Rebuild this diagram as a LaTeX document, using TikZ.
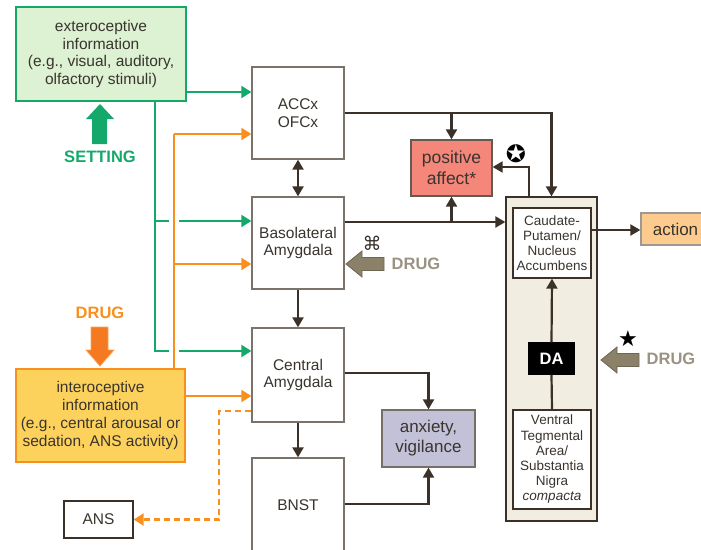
\documentclass[tikz,border=0pt]{standalone}
\usepackage{fontspec}
\setmainfont{Liberation Sans}
\newfontfamily\symfont{DejaVu Sans}
\usetikzlibrary{arrows.meta}
\definecolor{txt}{HTML}{3A342E}
\definecolor{ln}{HTML}{3B3128}
\definecolor{grn}{HTML}{14A96B}
\definecolor{org}{HTML}{F7901E}
\definecolor{orgdark}{HTML}{F47920}
\definecolor{orglight}{HTML}{F9A552}
\definecolor{extfill}{HTML}{DDF1D3}
\definecolor{intfill}{HTML}{FDD25C}
\definecolor{regbd}{HTML}{7A736C}
\definecolor{pafill}{HTML}{F4877A}
\definecolor{anxfill}{HTML}{C3C1D8}
\definecolor{actfill}{HTML}{FDCB8E}
\definecolor{bgfill}{HTML}{F1EEE1}
\definecolor{drugfill}{HTML}{8B8169}
\definecolor{drugbd}{HTML}{6E6552}
\definecolor{drugtxt}{HTML}{9B9282}
\begin{document}
\begin{tikzpicture}[x=1pt,y=-1pt,
  font=\fontsize{15.5}{17.7}\selectfont, text=txt,
  box/.style={draw=regbd, line width=1.3pt, fill=white, inner sep=0pt, align=center},
  region/.style={box, minimum width=92pt, minimum height=92pt},
  link/.style={draw=ln, line width=2.2pt, -{Triangle[length=10pt,width=11pt]}},
  glink/.style={draw=grn, line width=2.1pt},
  olink/.style={draw=org, line width=2.1pt},
  tipped/.style={-{Triangle[length=10pt,width=12pt]}},
  bold/.style={font=\fontsize{16.5}{18}\selectfont\bfseries}
]
\useasboundingbox (0,0) rectangle (701,549);

% beige container
\node[box, draw=ln, line width=1.3pt, fill=bgfill, minimum width=91pt, minimum height=324pt] (bg) at (551.5,359) {};

% input boxes
\node[box, draw=grn, line width=1.8pt, fill=extfill, minimum width=170pt, minimum height=94pt] (ext) at (101,54)
  {exteroceptive\\information\\(e.g., visual, auditory,\\olfactory stimuli)};
\node[box, draw=org, line width=1.8pt, fill=intfill, minimum width=169pt, minimum height=93pt] (int) at (100.5,415.5)
  {interoceptive\\information\\(e.g., central arousal or\\sedation, ANS activity)};
\node[box, draw=ln, minimum width=69pt, minimum height=37pt] (ans) at (98.5,519.5) {ANS};

% brain regions
\node[region] (acc) at (298,113) {ACCx\\OFCx};
\node[region] (bla) at (298,243) {Basolateral\\Amygdala};
\node[region, minimum height=94pt] (cea) at (298,375) {Central\\Amygdala};
\node[region, minimum height=94pt] (bnst) at (298,505) {BNST};

% outcome boxes
\node[box, draw=ln!80, fill=pafill, minimum width=81pt, minimum height=56pt,
  font=\fontsize{17.5}{21}\selectfont] (pa) at (451.5,168) {positive\\affect*};
\node[box, draw=ln!70, fill=anxfill, minimum width=93pt, minimum height=57pt,
  font=\fontsize{17}{20}\selectfont] (anx) at (428.5,438.5) {anxiety,\\vigilance};
\node[box, draw=ln!50, fill=actfill, minimum width=69pt, minimum height=32pt,
  font=\fontsize{17}{20}\selectfont] (act) at (675.5,229) {action};

% striatal boxes
\node[box, draw=ln, minimum width=78pt, minimum height=70pt,
  font=\fontsize{13.5}{15}\selectfont] (cp) at (552,243) {Caudate-\\Putamen/\\Nucleus\\Accumbens};
\node[box, draw=ln, minimum width=78pt, minimum height=99pt,
  font=\fontsize{13.5}{15.2}\selectfont] (vta) at (552,459.5) {Ventral\\Tegmental\\Area/\\Substantia\\Nigra\\\textit{compacta}};
\node[box, draw=black, fill=black, text=white, minimum width=45pt, minimum height=31pt,
  font=\fontsize{16.5}{18}\selectfont\bfseries] (da) at (551.5,358.5) {DA};

% green connectors
\draw[glink, tipped] (ext.east |- 0,92) -- (acc.west |- 0,92);
\coordinate (gtop) at (155,101);
\coordinate (g1) at (169,221);
\coordinate (g2) at (169,351);
\draw[glink] (gtop) -- (155,351) -- (g2);
\draw[glink] (155,221) -- (g1);
\draw[glink, tipped] (179,221) -- (bla.west |- 0,221);
\draw[glink, tipped] (179,351) -- (cea.west |- 0,351);

% orange connectors
\draw[olink] (int.north -| 174,0) -- (174,134);
\draw[olink, tipped] (174,134) -- (acc.west |- 0,134);
\draw[olink, tipped] (174,264) -- (bla.west |- 0,264);
\draw[olink, tipped] (int.east |- 0,396) -- (cea.west |- 0,396);
\draw[olink, dash pattern=on 6pt off 4pt, tipped] (cea.west |- 0,411) -- (219,411) -- (219,519.5) -- (ans.east);

% dark connectors
\draw[link, {Triangle[length=10pt,width=11pt]}-{Triangle[length=10pt,width=11pt]}] (acc.south) -- (bla.north);
\draw[link] (bla.south) -- (cea.north);
\draw[link] (cea.south) -- (bnst.north);
\draw[link] (acc.east) -- (bg.north |- acc.east) -- (bg.north);
\draw[link] (451.5,113) -- (pa.north);
\draw[link] (bla.east |- 0,222) -- (bg.west |- 0,222);
\draw[link] (451.5,222) -- (pa.south);
\draw[link] (bg.north -| 529,0) -- (529,167) -- (pa.east |- 0,167);
\draw[link] (cp.east |- 0,230) -- (act.west |- 0,230);
\draw[link] (da.north) -- (cp.south);
\draw[draw=ln, line width=2.2pt] (vta.north) -- (da.south);
\draw[link] (cea.east |- 0,373) -| (anx.north);
\draw[link] (bnst.east |- 0,504) -| (anx.south);

% SETTING arrow
\fill[grn] (100,104) -- (114,119) -- (107,119) -- (107,144) -- (92,144) -- (92,119) -- (86,119) -- cycle;
\node[bold, text=grn] (setting) at (100,157) {SETTING};

% DRUG (interoceptive)
\node[bold, text=org] (drug1) at (100,313) {DRUG};
\draw[fill=orgdark, draw=orglight, line width=0.8pt] (100,366) -- (114,350) -- (108,350) -- (108,327) -- (91,327) -- (91,350) -- (86,350) -- cycle;

% DRUG (basolateral)
\draw[fill=drugfill, draw=drugbd, line width=0.8pt] (346,264) -- (362,251) -- (362,257.5) -- (384,257.5) -- (384,270.5) -- (362,270.5) -- (362,277) -- cycle;
\node[bold, text=drugtxt] (drug2) at (416,264) {DRUG};
\node[font=\symfont\fontsize{19}{20}\selectfont, text=txt] (cmd) at (372,243) {⌘};

% DRUG (DA)
\draw[fill=drugfill, draw=drugbd, line width=0.8pt] (601,360) -- (617,347) -- (617,353.5) -- (639,353.5) -- (639,366.5) -- (617,366.5) -- (617,373) -- cycle;
\node[bold, text=drugtxt] (drug3) at (671,359) {DRUG};
\node[font=\symfont\fontsize{22}{22}\selectfont, text=black] (star) at (628,339) {★};
\node[font=\symfont\fontsize{24}{24}\selectfont, text=black] (cstar) at (516,154) {✪};
\end{tikzpicture}
\end{document}
